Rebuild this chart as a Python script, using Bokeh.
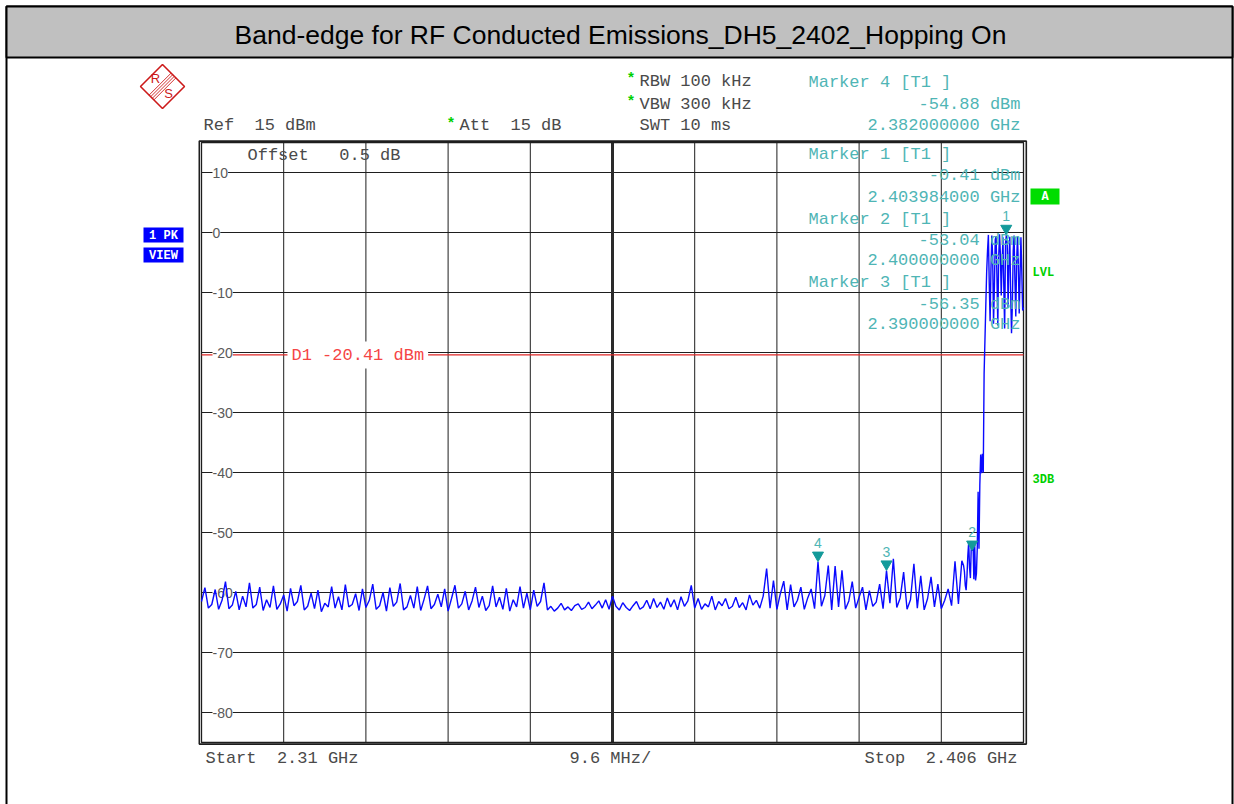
import numpy as np
from bokeh.plotting import figure
from bokeh.models import Range1d
from bokeh.core.properties import value
from bokeh.embed import file_html
from bokeh.resources import INLINE

# ------------------------------------------------------------------ data
title_text = "Band-edge for RF Conducted Emissions_DH5_2402_Hopping On"

f_start = 2.31          # GHz  (Start)
f_stop = 2.406          # GHz  (Stop)
ref_level = 15.0        # dBm  (Ref)
n_div = 10
db_per_div = 10.0

y_ticks = [10, 0, -10, -20, -30, -40, -50, -60, -70, -80]
y_tick_labels = ["10", "0", "-10", "-20", "-30", "-40", "-50", "-60", "-70", "-80"]

# trace part 1: 2.3100 ... 2.3988 GHz, one point every 0.4 MHz (dBm)
main_step = 0.0004
main_levels = [
    -61.5, -59.2, -62.6, -62.0, -59.5, -62.8, -61.3, -58.2, -62.7, -62.1, -59.8, -62.9, -60.6, -62.4, -58.4,
    -62.6, -62.0, -59.1, -63.0, -61.2, -62.5, -58.9, -62.8, -61.9, -60.4, -63.1, -59.3, -62.2, -61.5, -58.8,
    -62.9, -62.3, -60.1, -62.7, -59.6, -63.2, -61.8, -62.4, -59.0, -62.6, -60.7, -62.9, -58.7, -62.4, -62.0,
    -60.2, -63.0, -59.4, -62.5, -61.3, -58.6, -62.8, -62.2, -60.0, -63.1, -59.2, -62.3, -61.6, -58.5, -62.9,
    -62.4, -60.5, -62.6, -59.0, -63.0, -61.1, -58.9, -62.7, -62.0, -60.3, -62.4, -59.4, -63.1, -61.0, -58.8,
    -62.6, -61.9, -59.8, -62.9, -61.4, -59.1, -62.5, -60.6, -63.0, -62.2, -58.9, -62.4, -60.8, -62.8, -59.3,
    -63.1, -61.2, -62.4, -59.0, -62.6, -60.1, -62.9, -59.6, -62.3, -61.5, -58.4,
    -62.9, -62.3, -63.1, -62.6, -61.8, -62.9, -62.4, -63.0, -62.2, -61.9, -62.8, -62.5, -61.6, -62.7, -62.1,
    -61.4, -62.6, -61.2, -62.8, -60.6, -62.3, -62.9, -61.7, -62.5, -63.0, -62.2, -61.5, -62.8, -62.4, -61.3,
    -62.7, -61.0, -62.5, -61.6, -62.8, -60.9, -62.4, -61.2, -62.9, -60.7, -62.3, -61.4, -58.8, -62.6, -61.0,
    -62.8, -61.9, -62.4, -60.6, -62.9, -61.5, -62.2, -61.0, -62.7, -62.3, -60.8, -62.5, -61.7, -62.9, -60.4,
    -62.1, -61.3, -62.6, -60.6,
    -56.0, -62.6, -58.0, -62.8, -60.2, -58.1, -62.9, -58.7, -62.4, -61.3, -59.1, -62.8, -60.9, -59.4, -62.7,
    -54.88, -62.3, -60.5, -55.5, -62.9, -55.6, -62.4, -56.3, -62.8, -61.4, -58.2, -62.6, -60.8, -59.1, -62.9,
    -59.7, -62.3, -61.6, -58.6, -62.7, -56.35, -61.8, -54.4, -62.5, -60.9, -56.6, -62.8, -61.2, -55.2, -62.6,
    -57.2, -62.9, -61.0, -57.4, -62.4, -58.6, -62.7, -61.3, -59.4, -62.2, -54.8, -61.9, -54.7,
]

# trace part 2 (band edge): 2.3990 ... 2.4060 GHz, one point every 0.1 MHz (dBm)
edge_start = 2.399
edge_step = 0.0001
edge_levels = [
    -55.5, -56.5, -58.8, -59.6, -57.2, -53.8, -51.6, -55.9, -57.6, -52.4,
    -53.04, -51.5, -57.8, -52.0, -58.0, -56.9, -52.6, -43.2, -52.7, -42.0,
    -37.0, -40.1, -36.9, -40.0, -23.5, -17.8, -12.0, -6.5, -3.0, -0.4,
    -8.5, -14.8, -6.0, -0.5, -4.0, -15.2, -9.0, -1.2, -0.6, -7.5,
    -15.5, -4.2, -0.3, -3.5, -10.5, -5.2, -0.8, -9.0, -16.0, -1.8,
    -0.41, -2.0, -12.5, -4.5, -0.7, -10.0, -16.8, -12.0, -3.0, -0.5,
    -8.0, -14.0, -4.8, -0.6, -5.5, -13.5, -7.0, -0.8, -6.5, -13.0,
    -12.5,
]

marker_names = ["1", "2", "3", "4"]
marker_freqs = [2.403984, 2.400000, 2.390000, 2.382000]   # GHz
marker_levels = [-0.41, -53.04, -56.35, -54.88]           # dBm

d1_level = -20.41   # display line D1, dBm

# ------------------------------------------------------------------ layout helpers
W, H = 1234, 804
GL, GR, GT, GB = 201, 1023, 142, 742   # graticule edges in canvas pixels
kx = (f_stop - f_start) / (GR - GL)
ky = (n_div * db_per_div) / (GB - GT)
SP = "\u00a0"   # non-collapsing space for the instrument's fixed-width texts


def X(px):
    return f_start + (px - GL) * kx


def Y(py):
    return ref_level - (py - GT) * ky


MONO = value("Liberation Mono")
SANS = value("Liberation Sans")
GRAY = "#4a4a4a"
TEAL = "#4fb5b5"
GREEN = "#00d000"
RED = "#f54545"

p = figure(width=W, height=H,
           x_range=Range1d(X(0), X(W)),
           y_range=Range1d(Y(H), Y(0)),
           x_axis_type=None, y_axis_type=None,
           toolbar_location=None, output_backend="svg",
           min_border=0, min_border_left=0, min_border_right=0,
           min_border_top=0, min_border_bottom=0,
           outline_line_color=None,
           background_fill_color="white", border_fill_color="white")


def txt(px, py, s, color, size="17px", font=MONO, align="left",
        baseline="middle", style="normal", **kw):
    p.text(x=[X(px)], y=[Y(py)], text=[s], text_color=color, text_font=font,
           text_font_size=size, text_align=align, text_baseline=baseline,
           text_font_style=style, **kw)


# outer frame and title band
p.quad(left=X(6), right=X(1232), top=Y(6), bottom=Y(812),
       fill_color=None, line_color="black", line_width=2)
p.quad(left=X(6), right=X(1232), top=Y(6), bottom=Y(57),
       fill_color="#c0c0c0", line_color="black", line_width=2)
txt(620, 34, title_text, "black", size="26.5px", font=SANS, align="center")

# R&S logo
p.patch(x=[X(162), X(184), X(162), X(140)], y=[Y(64), Y(86), Y(108), Y(86)],
        fill_color=None, line_color="#cc1a1a", line_width=1.6)
for o in (-2.4, -0.8, 0.8, 2.4):
    p.line(x=[X(173 + o), X(151 + o)], y=[Y(75 + o), Y(97 + o)],
           line_color="#cc1a1a", line_width=0.9)
txt(155, 78, "R", "#cc1a1a", size="13px", font=SANS, align="center")
txt(168, 93, "S", "#cc1a1a", size="13px", font=SANS, align="center")

# graticule
div_x = (f_stop - f_start) / n_div
vx = [f_start + k * div_x for k in range(1, n_div)]
y_bottom = ref_level - n_div * db_per_div
p.segment(x0=vx, x1=vx, y0=y_bottom, y1=ref_level, line_color="#1e1e1e", line_width=1)
p.segment(x0=f_start, x1=f_stop, y0=y_ticks, y1=y_ticks, line_color="#1e1e1e", line_width=1)
p.segment(x0=[vx[4]], x1=[vx[4]], y0=y_bottom, y1=ref_level, line_color="#2a2a2a", line_width=3)
p.quad(left=f_start, right=f_stop, top=ref_level, bottom=y_bottom,
       fill_color=None, line_color="#1e1e1e", line_width=1.3)
p.quad(left=X(198.8), right=X(1025.8), top=Y(140.6), bottom=Y(743.6),
       fill_color=None, line_color="#1e1e1e", line_width=1.6)

# display line D1
p.segment(x0=f_start, x1=f_stop, y0=d1_level, y1=d1_level, line_color="#e02828", line_width=1.3)
txt(287, 354.5, f"D1 {d1_level:.2f} dBm", RED, background_fill_color="white", padding=4)

# y tick labels
p.text(x=X(212), y=y_ticks, text=y_tick_labels, text_color="#5a5a5a", text_font=SANS,
       text_font_size="14px", text_align="left", text_baseline="middle",
       background_fill_color="white")

# trace
freqs = np.concatenate([f_start + main_step * np.arange(len(main_levels)),
                        edge_start + edge_step * np.arange(len(edge_levels))])
levels = np.concatenate([main_levels, edge_levels])
p.line(freqs, levels, line_color="#0a0aff", line_width=1.4)

# markers
p.scatter(x=marker_freqs, y=[v + 6.5 * ky for v in marker_levels], marker="inverted_triangle",
          size=11, fill_color="#139a9a", line_color="#139a9a")
p.text(x=marker_freqs, y=marker_levels, text=marker_names, y_offset=-14,
       text_color=TEAL, text_font=SANS, text_font_size="14px",
       text_align="center", text_baseline="bottom")

# header texts
txt(203, 125, f"Ref{SP}{SP}15 dBm", GRAY)
txt(446, 124, "*", GREEN, size="15px", style="bold")
txt(459, 125, f"Att{SP}{SP}15 dB", GRAY)
txt(626, 79, "*", GREEN, size="15px", style="bold")
txt(639, 81, "RBW 100 kHz", GRAY)
txt(626, 102, "*", GREEN, size="15px", style="bold")
txt(639, 104, "VBW 300 kHz", GRAY)
txt(639, 125, "SWT 10 ms", GRAY)
txt(247, 155, f"Offset{SP}{SP}{SP}0.5 dB", GRAY)

# marker readouts
rows = {"4": (82, 104, 125), "1": (154, 175, 197), "2": (218.5, 240, 260), "3": (282, 304, 324)}
for name, fr, lv in zip(marker_names, marker_freqs, marker_levels):
    r1, r2, r3 = rows[name]
    txt(808, r1, f"Marker {name} [T1 ]", TEAL)
    txt(1020, r2, f"{lv:.2f} dBm", TEAL, align="right")
    txt(1020, r3, f"{fr:.9f} GHz", TEAL, align="right")

# side indicators
p.quad(left=X(143), right=X(183), top=Y(227), bottom=Y(242), fill_color="#0000ff", line_color=None)
p.quad(left=X(143), right=X(183), top=Y(247), bottom=Y(262), fill_color="#0000ff", line_color=None)
txt(163, 235, "1 PK", "white", size="12px", style="bold", align="center")
txt(163, 255, "VIEW", "white", size="12px", style="bold", align="center")
p.quad(left=X(1030), right=X(1059), top=Y(188), bottom=Y(204), fill_color="#00dd00", line_color=None)
txt(1044.5, 196.5, "A", "white", size="12px", style="bold", align="center")
txt(1032, 272, "LVL", GREEN, size="12px", style="bold")
txt(1032, 479, "3DB", GREEN, size="12px", style="bold")

# footer
txt(205, 758, f"Start{SP}{SP}{f_start:.2f} GHz", GRAY)
txt(569, 758, f"{div_x * 1000:.1f} MHz/", GRAY)
txt(1017, 758, f"Stop{SP}{SP}{f_stop:.3f} GHz", GRAY, align="right")

open("out.html", "w").write(file_html(p, INLINE))
